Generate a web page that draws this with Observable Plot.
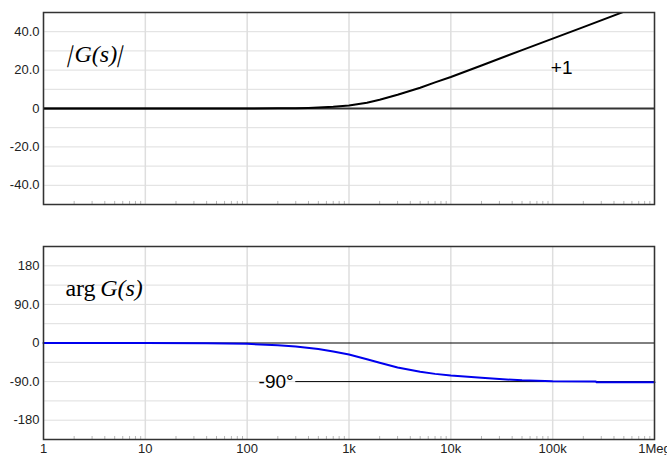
<!DOCTYPE html>
<html>
<head>
<meta charset="utf-8">
<script src="https://cdn.jsdelivr.net/npm/d3@7"></script>
<script src="https://cdn.jsdelivr.net/npm/@observablehq/plot@0.6"></script>
<style>
  html, body { margin: 0; padding: 0; background: #fff; }
  #chart svg { display: block; }
</style>
</head>
<body>
<div id="chart"></div>
<script>
// ---- data ----
const magFreq  = [1, 10, 100, 200, 300, 400, 500, 700, 1000, 1500, 2000, 3000, 5000, 7000, 10000, 20000, 50000, 100000, 200000, 490000];
const magDb    = [0, 0, 0.02, 0.08, 0.17, 0.3, 0.46, 0.85, 1.6, 3.0, 4.6, 7.2, 10.8, 13.6, 16.4, 22.4, 30.4, 36.4, 42.4, 50.2];

const phFreq   = [1, 10, 40, 100, 200, 300, 500, 700, 1000, 1500, 2000, 3000, 5000, 7000, 10000, 20000, 30000, 50000, 100000, 265000, 270000, 1000000];
const phDeg    = [0, 0, -0.5, -2, -5, -8, -14, -20, -27, -38, -46, -57, -67, -72, -76, -81, -84, -87, -89, -89.5, -91.5, -91.5];

const xTicks      = [1, 10, 100, 1000, 10000, 100000, 1000000];
const xTickLabels = ["1", "10", "100", "1k", "10k", "100k", "1Meg"];
const minorTicks  = [2,3,4,5,6,7,8,9,20,30,40,50,60,70,80,90,200,300,400,500,600,700,800,900,
                     2000,3000,4000,5000,6000,7000,8000,9000,20000,30000,40000,50000,60000,70000,80000,90000,
                     200000,300000,400000,500000,600000,700000,800000,900000];

const magTicks      = [40, 20, 0, -20, -40];
const magTickLabels = ["40.0", "20.0", "0", "-20.0", "-40.0"];
const magGrid       = [40, 30, 20, 10, -10, -20, -30, -40];

const phTicks      = [180, 90, 0, -90, -180];
const phTickLabels = ["180", "90.0", "0", "-90.0", "-180"];
const phGrid       = [180, 135, 90, 45, -45, -90, -135, -180];

const magBar   = "|";
const magLabel = "G(s)";
const slopeLabel = "+1";
const phLabelA = "arg";
const phLabelB = "G(s)";
const refLabel = "-90°";
const refStart = 300;   // frequency where the -90° reference line starts

const magData = magFreq.map((f, i) => ({f, v: magDb[i]}));
const phData  = phFreq.map((f, i) => ({f, v: phDeg[i]}));

const serif = "'Liberation Serif', 'Times New Roman', serif";
const common = {
  width: 667,
  marginLeft: 43,
  marginRight: 13,
  style: {fontFamily: "'Liberation Sans', Arial, sans-serif", fontSize: "13px", color: "#222", background: "#fff", overflow: "visible"}
};

const magPlot = Plot.plot({
  ...common,
  height: 228,
  marginTop: 12,
  marginBottom: 24,
  x: {type: "log", domain: [1, 1e6], axis: null},
  y: {domain: [-50, 50], ticks: magTicks, tickFormat: d => magTickLabels[magTicks.indexOf(d)], tickSize: 0, tickPadding: 4, label: null},
  marks: [
    Plot.ruleY(magGrid, {stroke: "#dedede", strokeWidth: 1}),
    Plot.ruleX(xTicks, {stroke: "#dedede", strokeWidth: 1.5}),
    Plot.ruleX(minorTicks, {y1: -50, y2: -48.4, stroke: "#b8b8b8"}),
    Plot.ruleY([0], {stroke: "#333", strokeWidth: 2}),
    Plot.line(magData, {x: "f", y: "v", stroke: "#000", strokeWidth: 2, clip: true}),
    Plot.text([magBar], {x: 1.76, y: 28, dx: 0, text: d => d, textAnchor: "start", fontFamily: serif, fontSize: 24, fill: "#000"}),
    Plot.text([magLabel], {x: 1.76, y: 28, dx: 6, text: d => d, textAnchor: "start", fontFamily: serif, fontStyle: "italic", fontSize: 24, fill: "#000"}),
    Plot.text([magBar], {x: 1.76, y: 28, dx: 50, text: d => d, textAnchor: "start", fontFamily: serif, fontSize: 24, fill: "#000"}),
    Plot.text([slopeLabel], {x: 96000, y: 21.3, text: d => d, textAnchor: "start", fontSize: 19, fill: "#000"}),
    Plot.frame({stroke: "#333", strokeWidth: 1.5})
  ]
});

const phasePlot = Plot.plot({
  ...common,
  height: 227,
  marginTop: 18,
  marginBottom: 16,
  x: {type: "log", domain: [1, 1e6], ticks: xTicks, tickFormat: d => xTickLabels[xTicks.indexOf(d)], tickSize: 0, tickPadding: 4, label: null},
  y: {domain: [-225, 225], ticks: phTicks, tickFormat: d => phTickLabels[phTicks.indexOf(d)], tickSize: 0, tickPadding: 4, label: null},
  marks: [
    Plot.ruleY(phGrid, {stroke: "#dedede", strokeWidth: 1}),
    Plot.ruleX(xTicks, {stroke: "#dedede", strokeWidth: 1.5}),
    Plot.ruleX(minorTicks, {y1: -225, y2: -218, stroke: "#b8b8b8"}),
    Plot.ruleY([0], {stroke: "#000", strokeWidth: 1}),
    Plot.ruleY([-90], {x1: refStart, x2: 1e6, stroke: "#000", strokeWidth: 1}),
    Plot.line(phData, {x: "f", y: "v", stroke: "#0000ee", strokeWidth: 2}),
    Plot.text([refLabel], {x: 286, y: -90, text: d => d, textAnchor: "end", fontSize: 19, fill: "#000"}),
    Plot.text([phLabelA], {x: 1.64, y: 128, text: d => d, textAnchor: "start", fontFamily: serif, fontSize: 24, fill: "#000"}),
    Plot.text([phLabelB], {x: 3.6, y: 128, text: d => d, textAnchor: "start", fontFamily: serif, fontStyle: "italic", fontSize: 24, fill: "#000"}),
    Plot.frame({stroke: "#333", strokeWidth: 1.5})
  ]
});

document.getElementById("chart").append(magPlot, phasePlot);

// slant the two magnitude bars (as in the reference's italic |G(s)| label)
d3.select(magPlot).selectAll("text").filter(function () { return this.textContent === magBar; }).each(function () {
  const bb = this.getBBox();
  let cx = bb.x + bb.width / 2, cy = bb.y + bb.height / 2;
  const tl = this.transform && this.transform.baseVal.consolidate();
  if (tl) {
    const m = tl.matrix;
    const nx = m.a * cx + m.c * cy + m.e, ny = m.b * cx + m.d * cy + m.f;
    cx = nx; cy = ny;
  }
  const g = document.createElementNS("http://www.w3.org/2000/svg", "g");
  g.setAttribute("transform", `translate(${cx},${cy}) skewX(-14) translate(${-cx},${-cy})`);
  this.parentNode.insertBefore(g, this);
  g.appendChild(this);
});
</script>
</body>
</html>
